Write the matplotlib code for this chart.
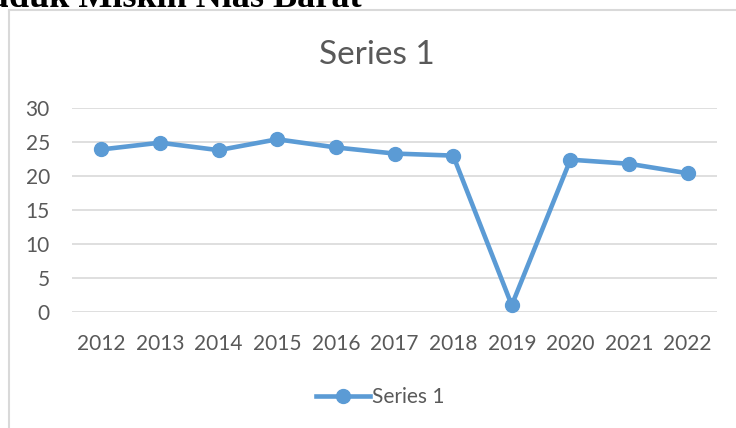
import matplotlib.pyplot as plt
from matplotlib.lines import Line2D

# data
years = ['2012', '2013', '2014', '2015', '2016', '2017', '2018', '2019', '2020', '2021', '2022']
values = [23.9, 24.9, 23.8, 25.4, 24.2, 23.3, 23.0, 1.0, 22.4, 21.8, 20.4]
yticks = [0, 5, 10, 15, 20, 25, 30]

W, H = 736, 428
blue = '#5b9bd5'
grey = '#595959'
grid = '#d9d9d9'

plt.rcParams['font.family'] = ['Lato', 'DejaVu Sans']

fig = plt.figure(figsize=(W / 100, H / 100), dpi=100)

# heading above the chart, cut off at the top of the image as in the source
fig.text(362 / W, 1 - 7 / H, 'Jumlah Penduduk Miskin Nias Barat', ha='right', va='baseline',
         fontsize=26, fontweight='bold', family='Liberation Serif', color='black')

# chart frame (left and top edges only are visible)
fig.add_artist(Line2D([9 / W, 9 / W], [0, 1 - 10 / H], transform=fig.transFigure, color=grid, lw=1.5))
fig.add_artist(Line2D([9 / W, 1], [1 - 10 / H, 1 - 10 / H], transform=fig.transFigure, color=grid, lw=1.5))

ax = fig.add_axes([72 / W, 1 - 312 / H, (717 - 72) / W, (312 - 108) / H])
x = range(len(years))
ax.plot(x, values, color=blue, lw=3.3, marker='o', ms=10, clip_on=False, zorder=3)

ax.set_xlim(-0.5, len(years) - 0.5)
ax.set_ylim(0, 30)
ax.set_xticks(list(x))
ax.set_xticklabels(years)
ax.set_yticks(yticks)
ax.yaxis.grid(True, color=grid, lw=1.2)
ax.set_axisbelow(True)
for s in ax.spines.values():
    s.set_visible(False)
ax.tick_params(length=0, labelsize=15, labelcolor=grey)
ax.tick_params(axis='y', pad=16)
ax.tick_params(axis='x', pad=16)

fig.text(377 / W, 1 - 55 / H, 'Series 1', ha='center', va='center', fontsize=24, color=grey)

handle = Line2D([], [], color=blue, lw=3.3, marker='o', ms=10)
fig.legend([handle], ['Series 1'], loc='center', bbox_to_anchor=(380 / W, 1 - 397 / H),
           frameon=False, fontsize=15, labelcolor=grey, handlelength=2.6, handletextpad=0.1)

fig.savefig('out.png', dpi=100)
